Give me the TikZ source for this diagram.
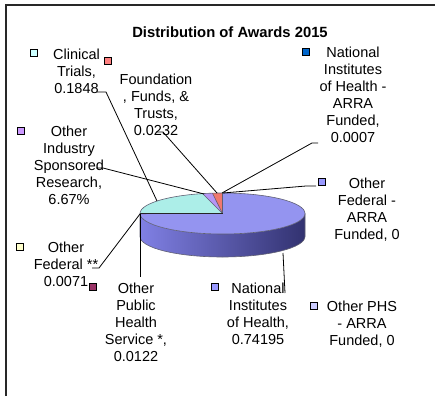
\documentclass[tikz,border=0pt]{standalone}
\usepackage{fontspec}
\setmainfont{Liberation Sans}
\definecolor{nihtop}{RGB}{148,148,240}
\definecolor{cyanslice}{RGB}{172,238,232}
\definecolor{purpslice}{RGB}{182,150,245}
\definecolor{redslice}{RGB}{240,120,110}
\definecolor{sideL}{RGB}{128,128,228}
\definecolor{sideM}{RGB}{102,102,200}
\definecolor{sideR}{RGB}{50,50,112}
\definecolor{mkCT}{RGB}{204,255,255}
\definecolor{mkFF}{RGB}{255,128,128}
\definecolor{mkNA}{RGB}{0,102,204}
\definecolor{mkIN}{RGB}{204,153,255}
\definecolor{mkFA}{RGB}{153,153,255}
\definecolor{mkOF}{RGB}{255,255,204}
\definecolor{mkPH}{RGB}{153,51,102}
\definecolor{mkNI}{RGB}{153,153,255}
\definecolor{mkPA}{RGB}{204,204,255}
\definecolor{framec}{RGB}{40,40,40}
\definecolor{edgec}{RGB}{95,95,115}
\tikzset{
  lbl/.style={font=\fontsize{14.5}{17}\selectfont, align=center, anchor=north, inner sep=0pt},
  ttl/.style={font=\bfseries\fontsize{14.8}{17}\selectfont, anchor=north, inner sep=0pt},
  mk/.style={draw=black, line width=1pt, minimum size=7pt, inner sep=0pt, fill=#1},
  leader/.style={draw=black, line width=0.8pt},
  pieedge/.style={draw=edgec, line width=0.6pt},
}
\begin{document}
\begin{tikzpicture}[x=1pt,y=1pt]
\useasboundingbox (0,0) rectangle (435,-396);
\fill[white] (0,0) rectangle (435,-396);
\draw[framec, line width=1.4pt] (6,-396) -- (6,-5) -- (435,-5);

\def\cx{222.5}
\def\cy{-213.5}
\def\rx{82.5}
\def\ry{20.5}
\def\dd{23}

% side
\shade[left color=sideL, middle color=sideM, right color=sideR]
  (\cx-\rx,\cy) arc[start angle=180, end angle=360, x radius=\rx, y radius=\ry]
  -- ++(0,-\dd) arc[start angle=360, end angle=180, x radius=\rx, y radius=\ry] -- cycle;
\draw[pieedge]
  (\cx-\rx,\cy) -- ++(0,-\dd) arc[start angle=180, end angle=360, x radius=\rx, y radius=\ry] -- ++(0,\dd);
% top slices
\fill[nihtop] (\cx,\cy) -- +(181.5:82.5 and 20.5) arc[start angle=181.5, end angle=450, x radius=\rx, y radius=\ry] -- cycle;
\fill[cyanslice] (\cx,\cy) -- +(104:82.5 and 20.5) arc[start angle=104, end angle=180, x radius=\rx, y radius=\ry] -- cycle;
\fill[purpslice] (\cx,\cy) -- +(97:82.5 and 20.5) arc[start angle=97, end angle=104, x radius=\rx, y radius=\ry] -- cycle;
\fill[redslice] (\cx,\cy) -- +(90:82.5 and 20.5) arc[start angle=90, end angle=97, x radius=\rx, y radius=\ry] -- cycle;
\fill[mkPH] (\cx,\cy) -- +(180:82.5 and 20.5) arc[start angle=180, end angle=181.5, x radius=\rx, y radius=\ry] -- cycle;
\draw[pieedge] (\cx,\cy) ellipse[x radius=\rx, y radius=\ry];
\draw[pieedge] (\cx,\cy) -- +(104:82.5 and 20.5);
\draw[pieedge] (\cx,\cy) -- +(97:82.5 and 20.5);
\draw[pieedge] (\cx,\cy) -- +(90:82.5 and 20.5);
\draw[black!85, line width=0.9pt] (\cx,\cy) -- +(180:82.5 and 20.5);

% pie anchor points
\coordinate (pCT) at (157,-201);
\coordinate (pFF) at (217,-193);
\coordinate (pNA) at (222,-193);
\coordinate (pIN) at (204,-194);
\coordinate (pFA) at (223,-193);
\coordinate (pOF) at (140,-214);
\coordinate (pPH) at (140,-214);
\coordinate (pNI) at (283,-253);

% title
\node[ttl] (title) at (230,-26.5) {Distribution of Awards 2015};

% labels
\node[lbl] (tCT) at (76.5,-48.7) {Clinical\\Trials,\\0.1848};
\node[lbl] (tFF) at (156,-74) {Foundation\\, Funds, \&\\Trusts,\\0.0232};
\node[lbl] (tNA) at (353,-47.2) {National\\Institutes\\of Health -\\ARRA\\Funded,\\0.0007};
\node[lbl] (tIN) at (69,-125.7) {Other\\Industry\\Sponsored\\Research,\\6.67\%};
\node[lbl] (tFA) at (367,-177.7) {Other\\Federal -\\ARRA\\Funded, 0};
\node[lbl] (tOF) at (66,-242) {Other\\Federal **\\0.0071};
\node[lbl] (tPH) at (136,-282.5) {Other\\Public\\Health\\Service *,\\0.0122};
\node[lbl] (tNI) at (258,-282.5) {National\\Institutes\\of Health,\\0.74195};
\node[lbl] (tPA) at (362,-300.7) {Other PHS\\- ARRA\\Funded, 0};

% markers
\node[mk=mkCT] (mCT) at (33.5,-53) {};
\node[mk=mkFF] (mFF) at (107.5,-61) {};
\node[mk=mkNA] (mNA) at (306,-52) {};
\node[mk=mkIN] (mIN) at (20.5,-130.5) {};
\node[mk=mkFA] (mFA) at (322,-182) {};
\node[mk=mkOF] (mOF) at (20,-246.5) {};
\node[mk=mkPH] (mPH) at (92.5,-287) {};
\node[mk=mkNI] (mNI) at (215,-287) {};
\node[mk=mkPA] (mPA) at (314,-306) {};

% leader free ends
\coordinate (eCT) at (97,-92);
\coordinate (kCT) at (106,-92);
\coordinate (eFF) at (156,-132);
\coordinate (kFF) at (163,-132);
\coordinate (eNA) at (318,-143);
\coordinate (kNA) at (312,-143);
\coordinate (eIN) at (96,-168);
\coordinate (kIN) at (103,-168);
\coordinate (eFA) at (316,-186);
\coordinate (kFA) at (306,-186);
\coordinate (eOF) at (92,-268);
\coordinate (kOF) at (99,-268);
\coordinate (ePH) at (140,-277);
\coordinate (eNI) at (285,-293);

\draw[leader] (eCT) -- (kCT) -- (pCT);
\draw[leader] (eFF) -- (kFF) -- (pFF);
\draw[leader] (eNA) -- (kNA) -- (pNA);
\draw[leader] (eIN) -- (kIN) -- (pIN);
\draw[leader] (eFA) -- (kFA) -- (pFA);
\draw[leader] (eOF) -- (kOF) -- (pOF);
\draw[leader] (pPH) -- (ePH);
\draw[leader] (pNI) -- (eNI);
\end{tikzpicture}
\end{document}
